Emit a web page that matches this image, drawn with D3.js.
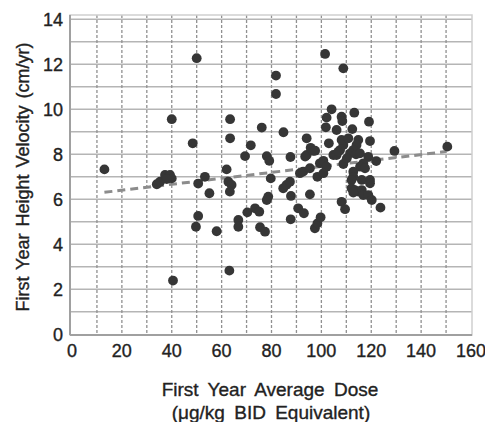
<!DOCTYPE html>
<html>

<head>
  <meta charset="utf-8">
  <title>First Year Height Velocity vs Dose</title>
  <script type="text/javascript" src="https://cdn.jsdelivr.net/npm/d3@7/dist/d3.min.js"></script>
  <style>
    body { margin: 0; background: white; }
    text {
      fill: #222;
      stroke: #222;
      stroke-width: 0.35px;
      font-family: "Liberation Sans", Arial, sans-serif;
    }
  </style>
</head>

<body>
  <svg class="chart"></svg>
</body>
<script>
  //1. Prepare the Data
  var dose = [13.0, 34.0, 35.3, 37.3, 38.6, 39.3, 40.0, 38.0, 40.0, 40.5,
    48.4, 50.0, 50.6, 53.3, 55.1, 50.6, 49.7, 58.0, 62.0, 62.7,
    64.0, 63.3, 63.4, 63.4, 63.1, 66.7, 66.7, 69.4, 71.7, 70.3,
    73.4, 75.1, 75.4, 77.4, 76.1, 78.1, 79.1, 79.7, 78.7, 78.1,
    81.8, 81.8, 84.8, 87.6, 84.7, 86.0, 87.4, 87.8, 87.7, 90.7,
    93.0, 91.4, 92.7, 94.1, 94.1, 95.7, 96.8, 97.5, 95.4, 95.4,
    97.4, 98.4, 99.7, 98.4, 99.4, 100.8, 102.1, 100.8, 101.5, 101.8,
    102.1, 104.1, 103.0, 106.1, 108.1, 108.4, 108.8, 104.8, 106.1, 107.5,
    108.8, 108.1, 110.8, 112.4, 113.2, 114.8, 114.1, 112.8, 111.5, 113.9,
    115.5, 108.8, 119.1, 119.5, 118.8, 116.8, 115.5, 117.5, 122.0, 112.8,
    112.8, 112.1, 116.2, 119.5, 119.5, 112.1, 113.4, 114.8, 116.2, 116.8,
    112.8, 118.8, 120.2, 108.1, 109.5, 123.7, 129.3, 150.5, 106.8, 93.5,
    110.2];
  var velocity = [7.33, 6.67, 6.78, 7.08, 7.00, 7.08, 6.93, 6.90, 9.56, 2.39,
    8.49, 12.27, 6.70, 7.00, 6.27, 5.26, 4.78, 4.58, 7.33, 6.78,
    6.64, 6.34, 9.56, 8.71, 2.83, 5.08, 4.78, 7.92, 8.40, 5.42,
    5.60, 5.45, 4.76, 4.56, 9.19, 7.92, 7.71, 6.93, 6.12, 5.97,
    11.50, 10.68, 8.98, 7.88, 6.49, 6.64, 6.78, 6.15, 5.11, 5.60,
    5.38, 7.16, 7.23, 8.71, 7.97, 8.29, 8.15, 8.16, 7.38, 6.22,
    4.71, 4.93, 5.20, 7.00, 7.60, 7.71, 7.45, 7.16, 12.46, 9.20,
    9.63, 10.00, 8.49, 9.08, 9.67, 9.48, 11.82, 7.97, 7.97, 8.19,
    8.41, 8.64, 8.71, 9.12, 9.85, 8.64, 8.41, 8.19, 8.04, 8.00,
    8.04, 7.57, 9.45, 8.59, 7.89, 7.60, 7.45, 7.38, 7.70, 7.23,
    7.00, 6.86, 6.86, 6.86, 6.71, 6.49, 6.41, 6.34, 6.41, 6.19,
    6.30, 6.19, 5.97, 5.89, 5.56, 5.63, 8.15, 8.34, 8.12, 7.90,
    7.82];

  // fitted trend line (end points)
  var trendDose = [13, 150];
  var trendVelocity = [6.31, 8.12];

  var xTicks = [0, 20, 40, 60, 80, 100, 120, 140, 160];
  var yTicks = [0, 2, 4, 6, 8, 10, 12, 14];
  var xGrid = d3.range(10, 160, 10);
  var yGrid = d3.range(1, 15, 1);

  var points = dose.map(function(d, i) { return [d, velocity[i]]; });
  var trend = trendDose.map(function(d, i) { return [d, trendVelocity[i]]; });

  //2. UI Component Properties
  var SVGWidth = 485,
  SVGHeight = 422,
  frameLeft = 70,
  frameRight = 472,
  frameTop = 15,
  frameBottom = 335;

  //3. Scaling
  var x = d3.scaleLinear().domain([0, 160]).range([72, 471]);
  var y = d3.scaleLinear().domain([0, 14]).range([334.3, 19.3]);

  //4. SVG chart
  var svg = d3.select(".chart")
  .attr('width', SVGWidth)
  .attr('height', SVGHeight);

  //5. Grid
  svg.append('g').selectAll('line')
  .data(yGrid)
  .enter().append('line')
  .attr('x1', frameLeft).attr('x2', frameRight)
  .attr('y1', y).attr('y2', y)
  .style('stroke', '#b5b5b5')
  .style('stroke-width', 1.4);

  svg.append('g').selectAll('line')
  .data(xGrid)
  .enter().append('line')
  .attr('x1', x).attr('x2', x)
  .attr('y1', frameTop).attr('y2', frameBottom)
  .style('stroke', '#909090')
  .style('stroke-width', 1.3)
  .style('stroke-dasharray', '3,2');

  //6. Frame
  svg.append('rect')
  .attr('x', frameLeft).attr('y', frameTop)
  .attr('width', frameRight - frameLeft)
  .attr('height', frameBottom - frameTop)
  .style('fill', 'none')
  .style('stroke', '#cfcfcf')
  .style('stroke-width', 1.5);

  svg.append('line')
  .attr('x1', frameLeft).attr('x2', frameLeft)
  .attr('y1', frameTop).attr('y2', frameBottom)
  .style('stroke', '#a0a0a0').style('stroke-width', 2);
  svg.append('line')
  .attr('x1', frameLeft).attr('x2', frameRight)
  .attr('y1', frameBottom).attr('y2', frameBottom)
  .style('stroke', '#a0a0a0').style('stroke-width', 2);

  //7. Trend line
  svg.append('path')
  .datum(trend)
  .attr('d', d3.line().x(function(d) { return x(d[0]); }).y(function(d) { return y(d[1]); }))
  .style('fill', 'none')
  .style('stroke', '#8c8c8c')
  .style('stroke-width', 3)
  .style('stroke-dasharray', '8,5');

  //8. Points
  svg.append('g').selectAll('circle')
  .data(points)
  .enter().append('circle')
  .attr('cx', function(d) { return x(d[0]); })
  .attr('cy', function(d) { return y(d[1]); })
  .attr('r', 4.9)
  .style('fill', '#363636');

  //9. Tick labels
  svg.append('g').selectAll('text')
  .data(xTicks)
  .enter().append('text')
  .attr('x', x)
  .attr('y', 357)
  .attr('text-anchor', 'middle')
  .style('font-size', '18px')
  .text(function(d) { return d; });

  svg.append('g').selectAll('text')
  .data(yTicks)
  .enter().append('text')
  .attr('x', 63)
  .attr('y', function(d) { return y(d) + 6.5; })
  .attr('text-anchor', 'end')
  .style('font-size', '18px')
  .text(function(d) { return d; });

  //10. Axis titles
  svg.append('text')
  .attr('transform', 'translate(29,177) rotate(-90)')
  .attr('text-anchor', 'middle')
  .style('font-size', '18px')
  .style('word-spacing', '2px')
  .text('First Year Height Velocity (cm/yr)');

  svg.append('text')
  .attr('x', 270).attr('y', 396)
  .attr('text-anchor', 'middle')
  .style('font-size', '19px')
  .style('word-spacing', '4px')
  .text('First Year Average Dose');

  svg.append('text')
  .attr('x', 271).attr('y', 419)
  .attr('text-anchor', 'middle')
  .style('font-size', '19px')
  .style('word-spacing', '4px')
  .text('(μg/kg BID Equivalent)');

</script>

</html>
